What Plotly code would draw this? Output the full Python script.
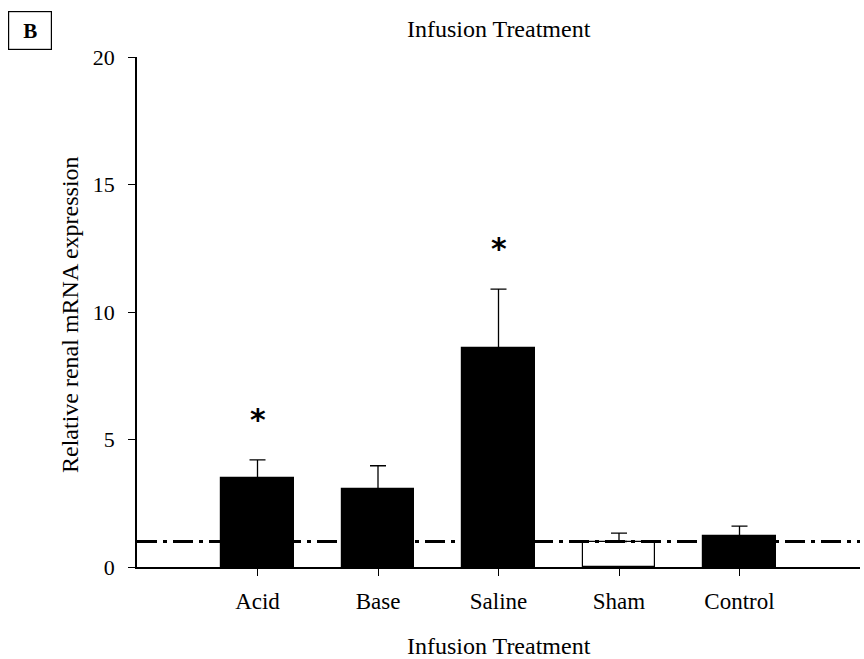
import plotly.graph_objects as go

categories = ["Acid", "Base", "Saline", "Sham", "Control"]
means = [3.5, 3.05, 8.6, 1.0, 1.22]
sem_upper = [0.7, 0.92, 2.3, 0.33, 0.38]
significant = [True, False, True, False, False]
bar_colors = ["black", "black", "black", "white", "black"]
reference_level = 1.0
y_ticks = [0, 5, 10, 15, 20]

FONT = "Liberation Serif, Times New Roman, serif"
xpos = list(range(1, len(categories) + 1))

fig = go.Figure()
fig.add_trace(go.Bar(
    x=xpos, y=means, width=0.6,
    marker=dict(color=bar_colors, line=dict(color="black", width=1.2)),
    error_y=dict(type="data", symmetric=False, array=sem_upper,
                 arrayminus=[0] * len(means), color="black",
                 thickness=1.3, width=8),
    showlegend=False,
))

# dash-dot reference line
fig.add_shape(type="line", xref="paper", yref="y", x0=0, x1=1,
              y0=reference_level, y1=reference_level,
              line=dict(color="black", width=3, dash="20px,6px,4px,6px"),
              layer="above")

# significance asterisks
for xi, m, e, s in zip(xpos, means, sem_upper, significant):
    if s:
        fig.add_annotation(x=xi, y=m + e + 1.85, text="<b>*</b>", showarrow=False,
                           font=dict(family="DejaVu Sans", size=30, color="black"),
                           yanchor="middle", yshift=-7)

# titles and panel label
fig.add_annotation(text="Infusion Treatment", xref="paper", yref="paper",
                   x=0.5, y=1, yshift=28, xanchor="center", yanchor="middle",
                   showarrow=False, font=dict(family=FONT, size=24, color="black"))
fig.add_annotation(text="Infusion Treatment", xref="paper", yref="paper",
                   x=0.5, y=0, yshift=-79, xanchor="center", yanchor="middle",
                   showarrow=False, font=dict(family=FONT, size=24, color="black"))
fig.add_annotation(text="Relative renal mRNA expression", xref="paper", yref="paper",
                   x=0, y=0.5, xshift=-67, yshift=-3, xanchor="center", yanchor="middle",
                   textangle=-90, showarrow=False,
                   font=dict(family=FONT, size=24, color="black"))
fig.add_annotation(text="<b>B</b>", xref="paper", yref="paper",
                   x=0, y=1, xshift=-129, yshift=27, xanchor="left", yanchor="middle",
                   showarrow=False, bordercolor="black", borderwidth=1.2,
                   borderpad=6, width=30, height=25,
                   font=dict(family=FONT, size=21, color="black"))

fig.update_layout(
    width=864, height=659,
    margin=dict(l=137, r=4, t=57, b=92),
    paper_bgcolor="white", plot_bgcolor="white",
    font=dict(family=FONT, size=22, color="black"),
    bargap=0,
    xaxis=dict(range=[0, 6], tickmode="array", tickvals=xpos, ticktext=categories,
               showline=True, linecolor="black", linewidth=1.5, ticks="outside",
               ticklen=7, tickcolor="black", tickwidth=1.2, showgrid=False,
               zeroline=False, tickfont=dict(size=23), ticklabelstandoff=6),
    yaxis=dict(range=[0, 20], tickvals=y_ticks, showline=True, linecolor="black",
               linewidth=1.5, ticks="outside", ticklen=7, tickcolor="black",
               tickwidth=1.2, showgrid=False, zeroline=False,
               tickfont=dict(size=22), ticklabelstandoff=9),
)

fig.write_html("out.html")
